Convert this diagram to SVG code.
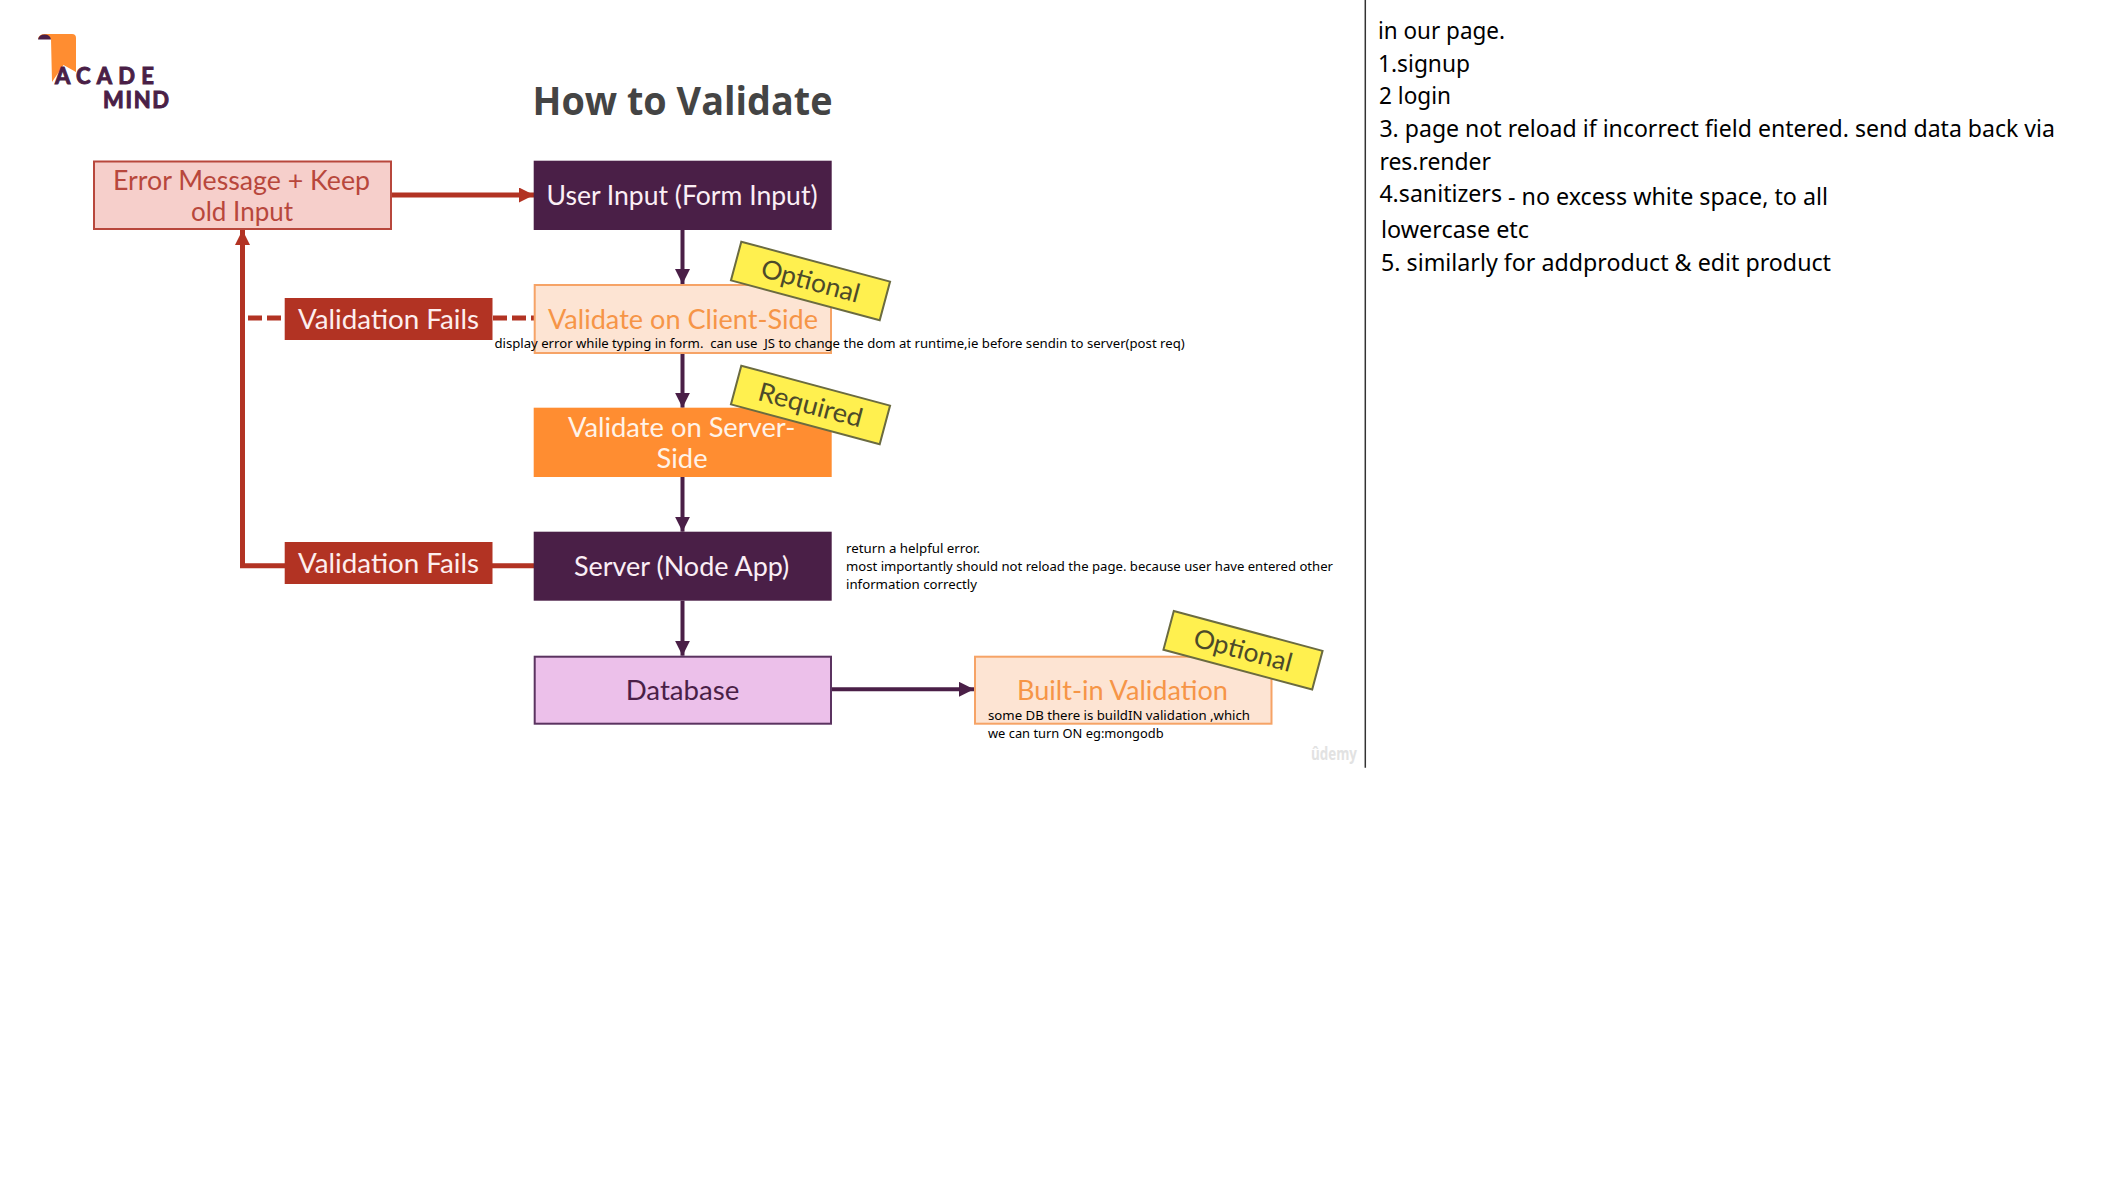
<svg xmlns="http://www.w3.org/2000/svg" width="2118" height="1178" viewBox="0 0 2118 1178">
<style>
.d{font-family:"Lato","Open Sans",sans-serif;font-size:26px}
.c{font-family:"Noto Sans","Open Sans",sans-serif;fill:#000;white-space:pre}
.n{font-size:13px}
.r{font-size:24px}
.o{fill:#f69547}
.b{stroke-width:2}
.st{fill:#fff04f;stroke:#6b6b40;stroke-width:2}
.stt{font-family:"Lato","Open Sans",sans-serif;font-size:26px;fill:#4c4a2a;text-anchor:middle}
.p{fill:none;stroke:#4a1f47;stroke-width:4}
.e{fill:none;stroke:#b23323;stroke-width:5}
.lg{font-family:Lato,sans-serif;font-weight:700;font-size:22px;fill:#4a1f47;stroke:#4a1f47;stroke-width:1}
</style>
<defs>
<marker id="ap" markerUnits="userSpaceOnUse" markerWidth="16" markerHeight="16" refX="15" refY="7.500" orient="auto"><path d="M0 0L15 7.500L0 15z" fill="#4a1f47"/></marker>
<marker id="ar" markerUnits="userSpaceOnUse" markerWidth="16" markerHeight="16" refX="15" refY="7.500" orient="auto"><path d="M0 0L15 7.500L0 15z" fill="#b23323"/></marker>
</defs>
<rect width="2118" height="1178" fill="#fff"/>
<g id="logo">
<path d="M38 39Q39 34 45 34H72Q76 34 76 38V72L63.500 65L52 82L51 39Z" fill="#ff8d31"/>
<path d="M38 39.500Q39 34.500 44.500 34.500Q50 34.500 51 39.500Z" fill="#4a1f47"/>
<text class="lg" x="55" y="84" textLength="99" lengthAdjust="spacing">ACADE</text>
<text class="lg" x="103" y="108" textLength="66" lengthAdjust="spacing">MIND</text>
</g>
<text id="title" x="532.500" y="114.500" font-family="'Open Sans',sans-serif" font-weight="700" font-size="40" fill="#444" textLength="300" lengthAdjust="spacingAndGlyphs">How to Validate</text>
<g id="connectors">
<path class="e" d="M391 195H534" marker-end="url(#ar)"/>
<path class="p" d="M682.500 230V284" marker-end="url(#ap)"/>
<path class="p" d="M682.500 353V407.700" marker-end="url(#ap)"/>
<path class="p" d="M682.500 477V531.700" marker-end="url(#ap)"/>
<path class="p" d="M682.500 600.700V655.700" marker-end="url(#ap)"/>
<path class="p" d="M832 689.300H974" marker-end="url(#ap)"/>
<path class="e" d="M534 565.700H242.500V230" marker-end="url(#ar)"/>
<path class="e" stroke-dasharray="14 5" d="M248 318H285"/>
<path class="e" stroke-dasharray="14 5" d="M493 318H534"/>
</g>
<g id="error-message">
<rect class="b" x="94" y="161.500" width="297" height="67.500" fill="#f6cfcb" stroke="#b8473c"/>
<text class="d" x="113" y="190" fill="#b8473c" textLength="257" lengthAdjust="spacingAndGlyphs">Error Message + Keep</text>
<text class="d" x="191" y="220.500" fill="#b8473c" textLength="102" lengthAdjust="spacingAndGlyphs">old Input</text>
</g>
<g id="user-input">
<rect x="533.700" y="160.700" width="298" height="69.300" fill="#4a1f47"/>
<text class="d" x="546.500" y="205" fill="#fbeef5" textLength="271" lengthAdjust="spacingAndGlyphs">User Input (Form Input)</text>
</g>
<g id="validation-fails-1">
<rect x="284.700" y="298" width="207.800" height="42" fill="#b23323"/>
<text class="d" x="298" y="329" fill="#fdeeee" textLength="181" lengthAdjust="spacingAndGlyphs">Validation Fails</text>
</g>
<g id="validate-client">
<rect class="b" x="534.700" y="285" width="296.300" height="68" fill="#fde4d3" stroke="#f6a366"/>
<text class="d o" x="548" y="329" textLength="270" lengthAdjust="spacingAndGlyphs">Validate on Client-Side</text>
</g>
<g id="validate-server">
<rect x="533.700" y="407.700" width="298" height="69.300" fill="#ff8d31"/>
<text class="d" x="568" y="436.700" fill="#fff3e8" textLength="227.400" lengthAdjust="spacingAndGlyphs">Validate on Server-</text>
<text class="d" x="656.600" y="467.700" fill="#fff3e8" textLength="51" lengthAdjust="spacingAndGlyphs">Side</text>
</g>
<g id="validation-fails-2">
<rect x="284.700" y="542" width="207.800" height="42" fill="#b23323"/>
<text class="d" x="298" y="572.700" fill="#fdeeee" textLength="181" lengthAdjust="spacingAndGlyphs">Validation Fails</text>
</g>
<g id="server">
<rect x="533.700" y="531.700" width="298" height="69" fill="#4a1f47"/>
<text class="d" x="574" y="576" fill="#fbeef5" textLength="215.300" lengthAdjust="spacingAndGlyphs">Server (Node App)</text>
</g>
<g id="database">
<rect class="b" x="534.700" y="656.700" width="296.300" height="67" fill="#ecc0ea" stroke="#5b3360"/>
<text class="d" x="625.700" y="700" fill="#4a1f47" textLength="113.700" lengthAdjust="spacingAndGlyphs">Database</text>
</g>
<g id="built-in">
<rect class="b" x="975" y="656.700" width="296.500" height="67" fill="#fde4d3" stroke="#f6a366"/>
<text class="d o" x="1017" y="700" textLength="211" lengthAdjust="spacingAndGlyphs">Built-in Validation</text>
</g>
<g id="sticker-optional-1">
<rect class="st" x="733.500" y="261" width="154" height="40" transform="rotate(15 810.500 281)"/>
<text class="stt" x="810.500" y="290" transform="rotate(15 810.500 281)" textLength="101" lengthAdjust="spacingAndGlyphs">Optional</text>
</g>
<g id="sticker-required">
<rect class="st" x="733.500" y="385" width="154" height="40" transform="rotate(15 810.500 405)"/>
<text class="stt" x="810.500" y="414" transform="rotate(15 810.500 405)" textLength="107" lengthAdjust="spacingAndGlyphs">Required</text>
</g>
<g id="sticker-optional-2">
<rect class="st" x="1166" y="630.300" width="154" height="40" transform="rotate(15 1243 650.300)"/>
<text class="stt" x="1243" y="659.300" transform="rotate(15 1243 650.300)" textLength="101" lengthAdjust="spacingAndGlyphs">Optional</text>
</g>
<g id="notes">
<text class="c n" x="494.400" y="348" textLength="690.300" lengthAdjust="spacingAndGlyphs">display error while typing in form.  can use  JS to change the dom at runtime,ie before sendin to server(post req)</text>
<text class="c n" x="846" y="553" textLength="134" lengthAdjust="spacingAndGlyphs">return a helpful error.</text>
<text class="c n" x="846" y="571" textLength="487" lengthAdjust="spacingAndGlyphs">most importantly should not reload the page. because user have entered other</text>
<text class="c n" x="846" y="589" textLength="131" lengthAdjust="spacingAndGlyphs">information correctly</text>
<text class="c n" x="988" y="720" textLength="262" lengthAdjust="spacingAndGlyphs">some DB there is buildIN validation ,which</text>
<text class="c n" x="988" y="738" textLength="175.600" lengthAdjust="spacingAndGlyphs">we can turn ON eg:mongodb</text>
</g>
<text id="udemy" x="1311" y="760" font-family="'Open Sans',sans-serif" font-weight="700" font-size="17" fill="#e2e2e2" textLength="46" lengthAdjust="spacingAndGlyphs">ûdemy</text>
<path id="divider" d="M1365.300 0V767.700" stroke="#333" stroke-width="1.500" fill="none"/>
<g id="side-notes">
<text class="c r" x="1378" y="38.500" textLength="127" lengthAdjust="spacingAndGlyphs">in our page.</text>
<text class="c r" x="1378" y="71.500" textLength="92" lengthAdjust="spacingAndGlyphs">1.signup</text>
<text class="c r" x="1379" y="103.500" textLength="72" lengthAdjust="spacingAndGlyphs">2 login</text>
<text class="c r" x="1379.400" y="136.500" textLength="675.600" lengthAdjust="spacingAndGlyphs">3. page not reload if incorrect field entered. send data back via</text>
<text class="c r" x="1379.400" y="169.500" textLength="111.600" lengthAdjust="spacingAndGlyphs">res.render</text>
<text class="c r" x="1379.400" y="201.500" textLength="122.600" lengthAdjust="spacingAndGlyphs">4.sanitizers</text>
<text class="c r" x="1508" y="204.500" textLength="320" lengthAdjust="spacingAndGlyphs">- no excess white space, to all</text>
<text class="c r" x="1381" y="237.500" textLength="148" lengthAdjust="spacingAndGlyphs">lowercase etc</text>
<text class="c r" x="1381" y="270.500" textLength="450" lengthAdjust="spacingAndGlyphs">5. similarly for addproduct &amp; edit product</text>
</g>
</svg>
